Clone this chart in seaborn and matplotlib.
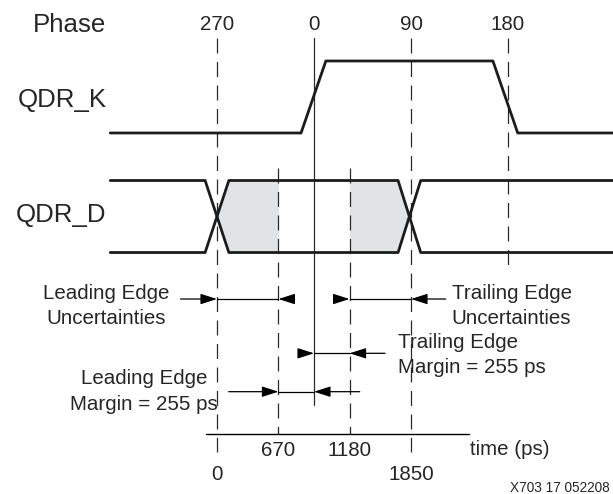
import numpy as np
import pandas as pd
import matplotlib
matplotlib.use("Agg")
import matplotlib.pyplot as plt
import seaborn as sns

# ---------------- data ----------------
phase_labels = ["270", "0", "90", "180"]
phase_deg = [-90, 0, 90, 180]

k_time = [-189, -12, 11, 166, 189, 278]
k_level = [0, 0, 1, 1, 0, 0]

d_time = [-189, -101, -79, 78, 99, 278]
d_rise_fall = [0, 0, 1, 1, 0, 0]
d_fall_rise = [1, 1, 0, 0, 1, 1]

time_labels_ps = ["0", "670", "1180", "1850"]
time_marker_deg = [-90, -33, 33, 90]
margin_ps = 255
fig_id = "X703 17 052208"

# ---------------- style ----------------
sns.set_style("white")
plt.rcParams["font.family"] = ["Liberation Sans", "DejaVu Sans"]

WAVE = "#1c1c1c"
THIN = "#2a2a2a"
SHADE = "#e2e3e5"
BIG = 18.6
MID = 14.8
SMALL = 9.8
LS = 1.42

K_BASE = 0.0
D_BASE = -1.66

fig = plt.figure(figsize=(6.13, 4.94), dpi=100)
ax = fig.add_axes([0, 0, 1, 1])
ax.set_xlim(-291.3, 277.4)
ax.set_ylim(-5.014, 1.847)
ax.axis("off")

# ---------------- waveforms ----------------
rows = []
for t, v in zip(k_time, k_level):
    rows.append(dict(t=t, y=K_BASE + v, trace="K"))
for t, v in zip(d_time, d_rise_fall):
    rows.append(dict(t=t, y=D_BASE + v, trace="D1"))
for t, v in zip(d_time, d_fall_rise):
    rows.append(dict(t=t, y=D_BASE + v, trace="D2"))
df = pd.DataFrame(rows)

# shaded eye regions (between the two D traces)
for a, b in [(time_marker_deg[0], time_marker_deg[1]), (time_marker_deg[2], time_marker_deg[3])]:
    tt = np.linspace(a, b, 300)
    u1 = np.interp(tt, d_time, d_rise_fall)
    u2 = np.interp(tt, d_time, d_fall_rise)
    ax.fill_between(tt, D_BASE + np.minimum(u1, u2), D_BASE + np.maximum(u1, u2),
                    color=SHADE, lw=0, zorder=1)

sns.lineplot(data=df, x="t", y="y", units="trace", estimator=None, sort=False,
             color=WAVE, lw=2.0, ax=ax, legend=False, zorder=4)
ax.set_xlabel("")
ax.set_ylabel("")
ax.axis("off")

# ---------------- vertical reference lines ----------------
TOP = 1.319
dash = (0, (12, 6.8))
line_ends = {-90: -4.43, 0: None, 90: -4.43, 180: -1.833}
for d in phase_deg:
    if d == 0:
        ax.plot([d, d], [TOP, -3.778], color=THIN, lw=0.9, zorder=3)
    else:
        ax.plot([d, d], [TOP, line_ends[d]], color=THIN, lw=0.9, ls=dash, zorder=3)
for d in time_marker_deg[1:3]:
    ax.plot([d, d], [-0.486, -4.181], color=THIN, lw=0.9, ls=dash, zorder=3)

# ---------------- labels ----------------
ax.text(-193, 1.50, "Phase", ha="right", va="center", fontsize=BIG)
ax.text(-192, 0.458, "QDR_K", ha="right", va="center", fontsize=BIG)
ax.text(-193, -1.139, "QDR_D", ha="right", va="center", fontsize=BIG)
for lab, d in zip(phase_labels, phase_deg):
    ax.text(d, 1.50, lab, ha="center", va="center", fontsize=MID)

# ---------------- arrows ----------------
AP = dict(arrowstyle="-|>,head_length=0.5,head_width=0.16", mutation_scale=20,
          lw=0.9, color="k", shrinkA=0, shrinkB=0)


def arrow(tip, tail, y):
    ax.annotate("", xy=(tip, y), xytext=(tail, y), arrowprops=AP, zorder=5)


def seg(x1, x2, y):
    ax.plot([x1, x2], [y, y], color="k", lw=0.9, zorder=5)


y_unc = -2.306
arrow(-90, -123.8, y_unc)
seg(-90, -33, y_unc)
arrow(-33, -19, y_unc)
arrow(33, 20, y_unc)
seg(33, 90, y_unc)
arrow(90, 122.2, y_unc)

y_tm = -3.06
arrow(0, -13, y_tm)
seg(0, 33, y_tm)
arrow(33, 65.9, y_tm)

y_lm = -3.593
arrow(-33, -79.1, y_lm)
seg(-33, 0, y_lm)
arrow(0, 42.4, y_lm)

ax.text(-192.5, -2.40, "Leading Edge\nUncertainties", ha="center", va="center",
        multialignment="center", fontsize=MID, linespacing=LS)
ax.text(127.6, -2.40, "Trailing Edge\nUncertainties", ha="left", va="center",
        multialignment="left", fontsize=MID, linespacing=LS)
ax.text(78, -3.08, f"Trailing Edge\nMargin = {margin_ps} ps", ha="left", va="center",
        multialignment="left", fontsize=MID, linespacing=LS)
ax.text(-157.7, -3.59, f"Leading Edge\nMargin = {margin_ps} ps", ha="center", va="center",
        multialignment="center", fontsize=MID, linespacing=LS)

# ---------------- time axis ----------------
ax.plot([-100.2, 143.8], [-4.181, -4.181], color="k", lw=1.0, zorder=5)
for i, (lab, d) in enumerate(zip(time_labels_ps, time_marker_deg)):
    yy = -4.75 if i in (0, 3) else -4.41
    ax.text(d, yy, lab, ha="center", va="center", fontsize=MID)
ax.text(144.7, -4.40, "time (ps)", ha="left", va="center", fontsize=MID)
ax.text(274.6, -4.93, fig_id, ha="right", va="center", fontsize=SMALL)

fig.savefig("out.png", dpi=100)
